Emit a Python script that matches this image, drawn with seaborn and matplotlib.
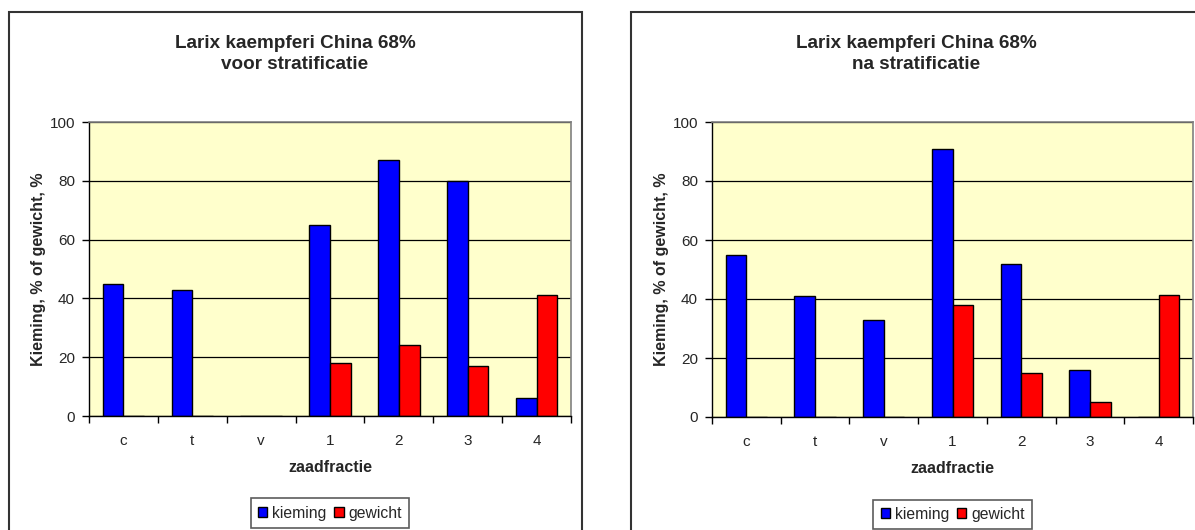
import numpy as np
import pandas as pd
import matplotlib
matplotlib.use("Agg")
import matplotlib.pyplot as plt
from matplotlib.patches import Rectangle
import seaborn as sns

# Seed fractions on the x axis
zaadfracties = ["c", "t", "v", "1", "2", "3", "4"]

# Before stratification (percent)
voor_kieming = [45, 43, 0, 65, 87, 80, 6]
voor_gewicht = [0, 0, 0, 18, 24, 17, 41]

# After stratification (percent)
na_kieming = [55, 41, 33, 91, 52, 16, 0]
na_gewicht = [0, 0, 0, 38, 15, 5, 41.5]

series_names = ["kieming", "gewicht"]
yticks = [0, 20, 40, 60, 80, 100]

titles = ["Larix kaempferi China 68%\nvoor stratificatie",
          "Larix kaempferi China 68%\nna stratificatie"]


def long_table(kieming, gewicht):
    return pd.DataFrame({
        "zaadfractie": zaadfracties * 2,
        "reeks": [series_names[0]] * len(zaadfracties) + [series_names[1]] * len(zaadfracties),
        "waarde": list(kieming) + list(gewicht),
    })


sns.set_theme(style="white")
plt.rcParams["font.family"] = ["Liberation Sans", "DejaVu Sans"]

W, H = 1195, 530
fig = plt.figure(figsize=(W / 100, H / 100), dpi=100)
fig.patch.set_facecolor("white")


def px_axes(x0, y0, x1, y1):
    return fig.add_axes([x0 / W, 1 - y1 / H, (x1 - x0) / W, (y1 - y0) / H])


# chart-area frames
for fx0, fx1 in [(8.5, 582), (631, 1201)]:
    fig.patches.append(Rectangle((fx0 / W, -0.05), (fx1 - fx0) / W, 1.05 - 12 / H,
                                 transform=fig.transFigure, fill=False,
                                 edgecolor="#333333", linewidth=1.5, zorder=0))

axes_px = [(89, 122, 571, 416), (712, 122, 1193, 417)]
title_x = [295, 916]
data = [(voor_kieming, voor_gewicht), (na_kieming, na_gewicht)]

for (x0, y0, x1, y1), tx, (kiem, gew), title in zip(axes_px, title_x, data, titles):
    ax = px_axes(x0, y0, x1, y1)
    df = long_table(kiem, gew)
    sns.barplot(data=df, x="zaadfractie", y="waarde", hue="reeks",
                order=zaadfracties, hue_order=series_names,
                palette=["#0000FF", "#FF0000"], width=0.6,
                edgecolor="black", linewidth=1.0, saturation=1,
                ax=ax, legend=True)
    ax.set_facecolor("#FFFFCC")
    ax.set_xlim(-0.5, len(zaadfracties) - 0.5)
    ax.set_ylim(0, 100)
    ax.set_yticks(yticks)
    ax.set_yticklabels([str(v) for v in yticks], fontsize=11)
    ax.set_xticks(range(len(zaadfracties)))
    ax.set_xticklabels(zaadfracties, fontsize=11)
    ax.tick_params(axis="x", which="major", length=0, pad=13)
    ax.set_xticks(np.arange(-0.5, len(zaadfracties)), minor=True)
    ax.tick_params(axis="x", which="minor", length=5, width=1, color="black",
                   direction="out", bottom=True)
    ax.tick_params(axis="y", length=5, width=1, color="black", direction="out",
                   left=True, pad=5)

    ax.set_axisbelow(True)
    ax.yaxis.grid(True, color="black", linewidth=0.9)
    ax.xaxis.grid(False)
    for side in ["top", "right"]:
        ax.spines[side].set_color("#808080")
        ax.spines[side].set_linewidth(1.2)
    for side in ["left", "bottom"]:
        ax.spines[side].set_color("black")
        ax.spines[side].set_linewidth(1.0)

    ax.set_xlabel("zaadfractie", fontsize=11.5, fontweight="bold")
    ax.xaxis.set_label_coords(0.5, -0.15)
    ax.set_ylabel("Kieming, % of gewicht, %", fontsize=11.5, fontweight="bold")
    ax.yaxis.set_label_coords(-0.09, 0.5)

    handles, labels = ax.get_legend_handles_labels()
    ax.get_legend().remove()
    leg = ax.legend(handles, labels, loc="center", bbox_to_anchor=(0.5, -0.33),
                    ncol=2, fontsize=11.3, frameon=True, fancybox=False,
                    edgecolor="#333333", handlelength=0.6, handleheight=0.6,
                    handletextpad=0.3, columnspacing=0.5, borderpad=0.45,
                    borderaxespad=0)
    leg.get_frame().set_linewidth(1.2)

    fig.text(tx / W, 1 - 54 / H, title, ha="center", va="center",
             fontsize=13.6, fontweight="bold", linespacing=1.35)

fig.savefig("out.png", dpi=100, facecolor="white")
